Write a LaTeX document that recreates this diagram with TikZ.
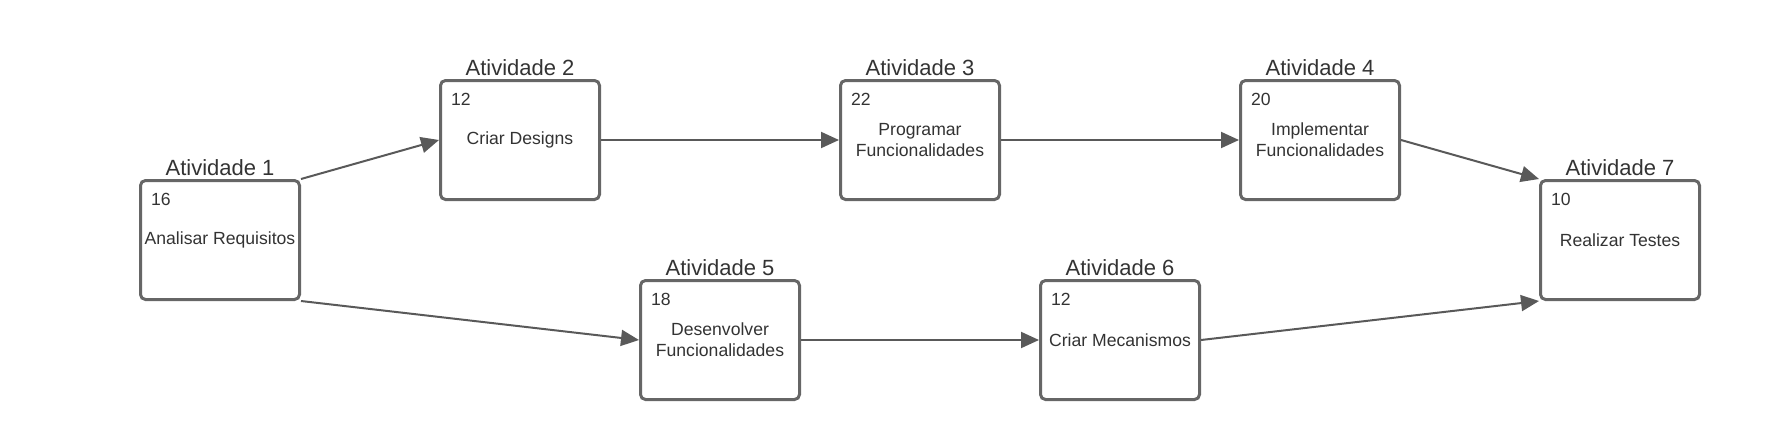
\documentclass[tikz,border=0pt]{standalone}
\usepackage{fontspec}
\setmainfont{Liberation Sans}
\usetikzlibrary{arrows.meta}
\definecolor{bord}{HTML}{666666}
\definecolor{lnk}{HTML}{595959}
\definecolor{txt}{HTML}{333333}
\begin{document}
\begin{tikzpicture}[x=1pt,y=-1pt,
 act/.style={draw=bord, line width=3pt, rounded corners=5pt, minimum width=159pt, minimum height=119pt, inner sep=0pt, fill=white, font=\fontsize{17.6}{21}\selectfont, text=txt, align=center},
 ttl/.style={font=\fontsize{22}{26}\selectfont, text=txt, anchor=base},
 num/.style={font=\fontsize{17.6}{21}\selectfont, text=txt, anchor=west},
 conn/.style={draw=lnk, line width=2pt, -{Triangle[length=18pt,width=16pt]}}]
\useasboundingbox (0,0) rectangle (1780,440);
\node[act] (a1) at (220,240) {Analisar Requisitos};
\node[act] (a2) at (520,140) {Criar Designs};
\node[act] (a3) at (920,140) {Programar\\Funcionalidades};
\node[act] (a4) at (1320,140) {Implementar\\Funcionalidades};
\node[act] (a5) at (720,340) {Desenvolver\\Funcionalidades};
\node[act] (a6) at (1120,340) {Criar Mecanismos};
\node[act] (a7) at (1620,240) {Realizar Testes};
\foreach \n/\d in {1/16,2/12,3/22,4/20,5/18,6/12,7/10}{
  \node[ttl] (t\n) at ([yshift=4pt]a\n.north) {Atividade \n};
  \node[num] (n\n) at ([xshift=8.5pt,yshift=-20pt]a\n.north west) {\d};
}
\draw[conn] (a1.north east) -- (a2.west);
\draw[conn] (a2.east) -- (a3.west);
\draw[conn] (a3.east) -- (a4.west);
\draw[conn] (a4.east) -- (a7.north west);
\draw[conn] (a1.south east) -- (a5.west);
\draw[conn] (a5.east) -- (a6.west);
\draw[conn] (a6.east) -- (a7.south west);
\end{tikzpicture}
\end{document}
